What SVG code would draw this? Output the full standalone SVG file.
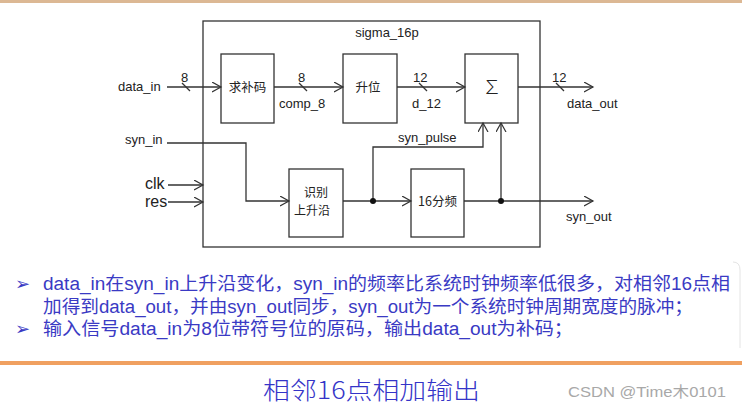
<svg xmlns="http://www.w3.org/2000/svg" width="742" height="408" viewBox="0 0 742 408">
<defs>
<marker id="arr" markerWidth="12" markerHeight="12" refX="9" refY="5" orient="auto" markerUnits="userSpaceOnUse">
<path d="M0,0 L9,5 L0,10" fill="none" stroke="#333" stroke-width="1.2"/>
</marker>
</defs>
<style>
.ln{fill:none;stroke:#333;stroke-width:1.3}
.bx{fill:#fff;stroke:#333;stroke-width:1.3}
.t{font-family:"Liberation Sans","Noto Sans CJK SC",sans-serif;font-size:13px;fill:#222}
.c{font-family:"Noto Sans CJK SC",sans-serif;font-size:12.5px;fill:#222}
.c2{font-family:"Noto Sans CJK SC",sans-serif;font-size:12px;fill:#222}
.big{font-family:"Liberation Sans","Noto Sans CJK SC",sans-serif;font-size:16px;fill:#222}
.note{font-family:"Liberation Sans","Noto Sans CJK SC",sans-serif;font-size:18px;fill:#3a3ac4}
.dot{fill:#111}
</style>
<rect width="742" height="408" fill="#fff"/>
<rect x="0" y="0" width="742" height="3" fill="#dcb894"/>
<g id="outer"><rect class="bx" x="203" y="21" width="337" height="226" fill="none"/>
<text class="t" x="387" y="37" text-anchor="middle">sigma_16p</text></g>
<g id="comp"><rect class="bx" x="221" y="54" width="53" height="69"/><text class="c" x="247.5" y="92" text-anchor="middle">求补码</text></g>
<g id="up"><rect class="bx" x="343" y="54" width="54" height="69"/><text class="c" x="368" y="92" text-anchor="middle">升位</text></g>
<g id="sum"><rect class="bx" x="465" y="54" width="53" height="69"/><text x="492" y="94" text-anchor="middle" font-family="Noto Sans CJK SC,sans-serif" font-weight="300" font-size="19" fill="#222">∑</text></g>
<g id="edge"><rect class="bx" x="289" y="169" width="54" height="68"/><text class="c2" x="316" y="197" text-anchor="middle">识别</text><text class="c2" x="312" y="215" text-anchor="middle">上升沿</text></g>
<g id="div"><rect class="bx" x="411" y="169" width="53" height="68"/><text class="c" x="437.5" y="206" text-anchor="middle">16分频</text></g>
<g id="connectors">
<line class="ln" x1="167" y1="87" x2="221" y2="87" marker-end="url(#arr)"/>
<line class="ln" x1="274" y1="87" x2="343" y2="87" marker-end="url(#arr)"/>
<line class="ln" x1="397" y1="87" x2="465" y2="87" marker-end="url(#arr)"/>
<line class="ln" x1="518" y1="87" x2="593" y2="87" marker-end="url(#arr)"/>
<path class="ln" d="M182,83 L190,91 M299,83 L307,91 M419,83 L427,91 M556,83 L564,91"/>
<path class="ln" d="M167,143 H246 V201 H289" marker-end="url(#arr)"/>
<line class="ln" x1="168" y1="185" x2="203" y2="185" marker-end="url(#arr)"/>
<line class="ln" x1="168" y1="202" x2="203" y2="202" marker-end="url(#arr)"/>
<line class="ln" x1="343" y1="201" x2="411" y2="201" marker-end="url(#arr)"/>
<path class="ln" d="M373,201 V147 H483 V123" marker-end="url(#arr)"/>
<line class="ln" x1="464" y1="201" x2="593" y2="201" marker-end="url(#arr)"/>
<line class="ln" x1="501" y1="201" x2="501" y2="123" marker-end="url(#arr)"/>
<circle class="dot" cx="373" cy="201" r="3"/>
<circle class="dot" cx="501" cy="201" r="3"/>
</g>
<g id="labels">
<text class="t" x="118" y="91">data_in</text>
<text class="t" x="181" y="82">8</text>
<text class="t" x="298" y="82">8</text>
<text class="t" x="279" y="108">comp_8</text>
<text class="t" x="413" y="82">12</text>
<text class="t" x="412" y="108">d_12</text>
<text class="t" x="552" y="82">12</text>
<text class="t" x="567" y="108">data_out</text>
<text class="t" x="125" y="144">syn_in</text>
<text class="big" x="145" y="189">clk</text>
<text class="big" x="145" y="207">res</text>
<text class="t" x="398" y="142">syn_pulse</text>
<text class="t" x="566" y="221">syn_out</text>
</g>
<g id="notes">
<text class="note" x="15" y="290" font-family="DejaVu Sans,sans-serif" font-size="15">➢</text>
<text class="note" x="43" y="290" textLength="687" lengthAdjust="spacingAndGlyphs">data_in在syn_in上升沿变化，syn_in的频率比系统时钟频率低很多，对相邻16点相</text>
<text class="note" x="43" y="313" textLength="650" lengthAdjust="spacingAndGlyphs">加得到data_out，并由syn_out同步，syn_out为一个系统时钟周期宽度的脉冲；</text>
<text class="note" x="15" y="335" font-family="DejaVu Sans,sans-serif" font-size="15">➢</text>
<text class="note" x="43" y="335" textLength="530" lengthAdjust="spacingAndGlyphs">输入信号data_in为8位带符号位的原码，输出data_out为补码；</text>
</g>
<path d="M733,262 Q740,262 740,270 V348" fill="none" stroke="#e4e4e4" stroke-width="1"/>
<rect x="0" y="361" width="742" height="4" fill="#f0a060"/>
<text x="263" y="399" textLength="217" lengthAdjust="spacingAndGlyphs" font-family="Noto Sans CJK SC,sans-serif" font-size="24" font-weight="300" fill="#3434c8">相邻16点相加输出</text>
<text x="568" y="397" textLength="158" lengthAdjust="spacingAndGlyphs" font-family="Liberation Sans,Noto Sans CJK SC,sans-serif" font-size="15" fill="#a8a8a8">CSDN @Time木0101</text>
</svg>
